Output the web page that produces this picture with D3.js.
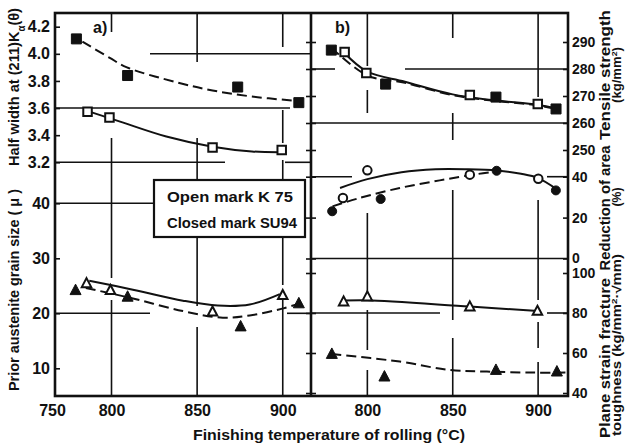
<!DOCTYPE html>
<html><head><meta charset="utf-8">
<script src="https://cdn.jsdelivr.net/npm/d3@7"></script>
<style>
body{margin:0;background:#fff}
svg{display:block}
text{font-family:"Liberation Sans",Arial,sans-serif;fill:#111;font-weight:bold}
</style>
</head><body><svg id="c" width="626" height="444"></svg>
<script>
// ---------------- DATA ----------------
// x tick labels
const xTicksLeft = [800, 850, 900];
const xTicksRight = [800, 850, 900];
const xStartLabel = "750";
// y tick labels
const hwTicks = [3.2, 3.4, 3.6, 3.8, 4.0, 4.2];
const gsTicks = [10, 20, 30, 40];
const tsTicks = [250, 260, 270, 280, 290];
const raTicks = [0, 20, 40];
const ftTicks = [40, 60, 80, 100];

// a) Half width at (211)Ka(theta)
const hwSU94Temp = [779.5, 809.4, 873.7, 909.4];
const hwSU94 = [4.11, 3.84, 3.755, 3.64];
const hwK75Temp = [786, 798.8, 859, 899.4];
const hwK75 = [3.573, 3.53, 3.31, 3.29];
const hwSU94FitTemp = [783, 799, 809, 838, 859, 882, 906];
const hwSU94Fit = [4.09, 3.97, 3.90, 3.79, 3.73, 3.685, 3.655];
const hwK75FitTemp = [788, 805, 832, 859, 882, 900];
const hwK75Fit = [3.57, 3.50, 3.39, 3.315, 3.28, 3.275];

// a) Prior austenite grain size
const gsSU94Temp = [779, 809.4, 875.4, 909.4];
const gsSU94 = [24.2, 23.0, 17.6, 21.8];
const gsK75Temp = [785.4, 799.4, 859, 900];
const gsK75 = [25.45, 24.2, 20.3, 23.3];
const gsK75FitTemp = [787, 812.5, 841.7, 862, 880.7, 898.3];
const gsK75Fit = [25.9, 24.3, 22.3, 21.4, 21.6, 23.5];
const gsSU94FitTemp = [785, 812.5, 841.7, 865, 880.7, 900.3, 908];
const gsSU94Fit = [24.6, 22.7, 20.4, 19.2, 19.6, 20.9, 21.6];

// b) Tensile strength
const tsSU94Temp = [778.9, 810.7, 875.3, 910.5];
const tsSU94 = [287, 274.4, 269.6, 265.2];
const tsK75Temp = [786.7, 799.4, 860, 899.8];
const tsK75 = [286.3, 278.5, 270.4, 267];
const tsK75FitTemp = [786, 800, 822, 850, 873, 900, 910];
const tsK75Fit = [286.3, 279, 275.3, 270.6, 268.5, 266.7, 265.5];
const tsSU94FitTemp = [779, 800, 822, 850, 873, 900, 910];
const tsSU94Fit = [287.8, 277.6, 274.9, 270.3, 268.3, 266.5, 265.3];

// b) Reduction of area
const raSU94Temp = [779.4, 807.8, 875.7, 910.4];
const raSU94 = [23.1, 29.1, 42.9, 33.3];
const raK75Temp = [785.7, 800, 860, 900.1];
const raK75 = [29.6, 43.1, 41, 39];
const raK75FitTemp = [784, 800, 820, 840, 858, 876, 890, 900, 911];
const raK75Fit = [34.5, 38.8, 42.2, 43.6, 43.6, 43.0, 41.4, 39.3, 33.8];
const raSU94FitTemp = [779.6, 795.5, 819, 842.4, 862, 877];
const raSU94Fit = [25.5, 29.6, 34.5, 38.2, 41, 42.7];

// b) Plane strain fracture toughness
const ftK75Temp = [786.1, 800, 860, 899.6];
const ftK75 = [85.7, 88.2, 83.2, 81];
const ftSU94Temp = [779.2, 810, 875.3, 911];
const ftSU94 = [59.5, 48.2, 51.5, 50.7];
const ftK75FitTemp = [786, 800, 860, 900];
const ftK75Fit = [86.2, 86.4, 83.2, 81];
const ftSU94FitTemp = [779, 819, 848, 870, 897, 916];
const ftSU94Fit = [59.5, 55.7, 51.5, 50.7, 50.2, 50.2];

// ---------------- LAYOUT ----------------
const F = {left: 55, mid: 311, right: 568, top: 13, bottom: 396};
const svg = d3.select("#c");
svg.append("rect").attr("width", 626).attr("height", 444).attr("fill", "#fff");

const xL = d3.scaleLinear().domain([767, 916.5]).range([F.left, F.mid]);
const xR = d3.scaleLinear().domain([767, 917.5]).range([F.mid, F.right]);
const yHW = d3.scaleLinear().domain([3.2, 4.2]).range([162.3, 26.7]);
const yGS = d3.scaleLinear().domain([10, 40]).range([368.3, 203.3]);
const yTS = d3.scaleLinear().domain([250, 290]).range([150, 42]);
const yRA = d3.scaleLinear().domain([0, 40]).range([258.5, 176.7]);
const yFT = d3.scaleLinear().domain([40, 100]).range([393, 273]);

const INK = "#111";

// ---------------- GRID (broken lines as in the print) ----------------
const grid = svg.append("g").attr("stroke", INK).attr("stroke-width", 1.6).attr("fill", "none");
const hGrid = [
  [yHW, 4.0, [[150, F.mid]]],
  [yHW, 3.6, [[F.left, 290]]],
  [yHW, 3.2, [[F.left, 225], [285, F.mid]]],
  [yGS, 40, [[F.left, 154]]],
  [yGS, 20, [[F.left, 150], [287, F.mid]]],
  [yTS, 280, [[F.mid, 335], [405, F.right]]],
  [yTS, 260, [[F.mid, F.right]]],
  [yRA, 40, [[F.mid, 352], [547, F.right]]],
  [yRA, 0, [[F.mid, F.right]]],
  [yFT, 80, [[F.mid, 440], [547, F.right]]]
];
hGrid.forEach(([s, v, segs]) => segs.forEach(([a, b]) =>
  grid.append("line").attr("x1", a).attr("x2", b).attr("y1", s(v)).attr("y2", s(v))));
const vGrid = [
  [xL, 800, [[13, 32], [138, 278], [300, 396]]],
  [xL, 850, [[13, 62], [138, 180], [237, 306], [327, 396]]],
  [xL, 900, [[13, 47], [110, 143], [160, 180], [237, 285], [300, 396]]],
  [xR, 800, [[13, 66], [90, 113], [213, 300], [310, 350], [370, 396]]],
  [xR, 850, [[13, 38], [113, 140], [190, 320], [338, 396]]],
  [xR, 900, [[13, 97], [200, 300], [322, 348], [362, 396]]]
];
vGrid.forEach(([s, v, segs]) => segs.forEach(([a, b]) =>
  grid.append("line").attr("x1", s(v)).attr("x2", s(v)).attr("y1", a).attr("y2", b)));

// ---------------- LEGEND BOX ----------------
svg.append("rect").attr("x", 154).attr("y", 180).attr("width", 151).attr("height", 57)
  .attr("fill", "#fff").attr("stroke", INK).attr("stroke-width", 2.2);
svg.append("text").attr("x", 167).attr("y", 202).attr("font-size", 15)
  .attr("textLength", 126).attr("lengthAdjust", "spacingAndGlyphs").text("Open mark  K 75");
svg.append("text").attr("x", 167).attr("y", 228).attr("font-size", 15)
  .attr("textLength", 130).attr("lengthAdjust", "spacingAndGlyphs").text("Closed mark  SU94");

// ---------------- FIT CURVES ----------------
function fit(T, V, xs, ys, dashed) {
  const pts = T.map((t, i) => [xs(t), ys(V[i])]);
  svg.append("path").attr("d", d3.line().curve(d3.curveCatmullRom.alpha(0.5))(pts))
    .attr("fill", "none").attr("stroke", INK).attr("stroke-width", 2)
    .attr("stroke-dasharray", dashed ? "10,5" : null);
}
fit(hwSU94FitTemp, hwSU94Fit, xL, yHW, true);
fit(hwK75FitTemp, hwK75Fit, xL, yHW, false);
fit(gsK75FitTemp, gsK75Fit, xL, yGS, false);
fit(gsSU94FitTemp, gsSU94Fit, xL, yGS, true);
fit(tsK75FitTemp, tsK75Fit, xR, yTS, false);
fit(tsSU94FitTemp, tsSU94Fit, xR, yTS, true);
fit(raK75FitTemp, raK75Fit, xR, yRA, false);
fit(raSU94FitTemp, raSU94Fit, xR, yRA, true);
fit(ftK75FitTemp, ftK75Fit, xR, yFT, false);
fit(ftSU94FitTemp, ftSU94Fit, xR, yFT, true);

// ---------------- MARKERS ----------------
const shapes = {
  square: (s) => `M${-s/2},${-s/2}h${s}v${s}h${-s}Z`,
  triangle: (s) => `M0,${-s*0.55}L${s/2},${s*0.4}L${-s/2},${s*0.4}Z`,
  circle: (s) => d3.symbol(d3.symbolCircle, Math.PI * s * s / 4)()
};
function pts(T, V, xs, ys, shape, filled) {
  const size = shape === "circle" ? (filled ? 9 : 8.5) : shape === "triangle" ? (filled ? 11 : 9.5) : (filled ? 10 : 8.5);
  svg.append("g").selectAll("path").data(T).join("path")
    .attr("transform", (t, i) => `translate(${xs(t)},${ys(V[i])})`)
    .attr("d", shapes[shape](size))
    .attr("fill", filled ? INK : "#fff")
    .attr("stroke", INK).attr("stroke-width", filled ? 1 : 2);
}
pts(hwSU94Temp, hwSU94, xL, yHW, "square", true);
pts(hwK75Temp, hwK75, xL, yHW, "square", false);
pts(gsSU94Temp, gsSU94, xL, yGS, "triangle", true);
pts(gsK75Temp, gsK75, xL, yGS, "triangle", false);
pts(tsSU94Temp, tsSU94, xR, yTS, "square", true);
pts(tsK75Temp, tsK75, xR, yTS, "square", false);
pts(raSU94Temp, raSU94, xR, yRA, "circle", true);
pts(raK75Temp, raK75, xR, yRA, "circle", false);
pts(ftSU94Temp, ftSU94, xR, yFT, "triangle", true);
pts(ftK75Temp, ftK75, xR, yFT, "triangle", false);

// ---------------- FRAME ----------------
svg.append("rect").attr("x", F.left).attr("y", F.top)
  .attr("width", F.right - F.left).attr("height", F.bottom - F.top)
  .attr("fill", "none").attr("stroke", INK).attr("stroke-width", 2.6);
svg.append("line").attr("x1", F.mid).attr("x2", F.mid).attr("y1", F.top).attr("y2", F.bottom)
  .attr("stroke", INK).attr("stroke-width", 2.6);

// ---------------- AXES ----------------
function styleAxis(g) {
  g.select(".domain").remove();
  g.selectAll("line").attr("stroke", INK).attr("stroke-width", 1.6);
  g.selectAll("text").attr("fill", INK).attr("font-family", '"Liberation Sans",Arial,sans-serif')
    .attr("font-weight", "bold");
}
// left axes (ticks pointing inward)
[[yHW, hwTicks, d3.format(".1f")], [yGS, gsTicks, d3.format("d")]].forEach(([s, tv, fmt]) => {
  const g = svg.append("g").attr("transform", `translate(${F.left},0)`)
    .call(d3.axisLeft(s).tickValues(tv).tickFormat(fmt).tickSizeInner(-5).tickSizeOuter(0).tickPadding(6));
  styleAxis(g);
  g.selectAll("text").attr("font-size", 16).attr("x", -5);
});
// right axes
[[yTS, tsTicks], [yRA, raTicks], [yFT, ftTicks]].forEach(([s, tv]) => {
  const g = svg.append("g").attr("transform", `translate(${F.right},0)`)
    .call(d3.axisRight(s).tickValues(tv).tickFormat(d3.format("d")).tickSizeInner(-5).tickSizeOuter(0));
  styleAxis(g);
  g.selectAll("text").attr("font-size", 14).attr("x", 4);
});
// middle ticks crossing the shared border
[[yTS, tsTicks], [yRA, raTicks], [yFT, ftTicks]].forEach(([s, tv]) => {
  const g = svg.append("g").attr("transform", `translate(${F.mid},0)`)
    .call(d3.axisRight(s).tickValues(tv).tickFormat("").tickSizeInner(5).tickSizeOuter(0));
  styleAxis(g);
  g.selectAll(".tick line").attr("x1", -5);
});
// x axes
const gxL = svg.append("g").attr("transform", `translate(0,${F.bottom})`)
  .call(d3.axisBottom(xL).tickValues([xL.domain()[0], ...xTicksLeft])
    .tickFormat((d, i) => i === 0 ? xStartLabel : d3.format("d")(d)).tickSize(0).tickPadding(5));
styleAxis(gxL);
gxL.selectAll("text").attr("font-size", 16).attr("dy", "0.95em");
gxL.select(".tick text").attr("x", -3);
const gxR = svg.append("g").attr("transform", `translate(0,${F.bottom})`)
  .call(d3.axisBottom(xR).tickValues(xTicksRight).tickFormat(d3.format("d")).tickSize(0).tickPadding(5));
styleAxis(gxR);
gxR.selectAll("text").attr("font-size", 16).attr("dy", "0.95em");

// ---------------- PANEL TAGS ----------------
svg.append("text").attr("x", 93).attr("y", 33).attr("font-size", 16).text("a)");
svg.append("text").attr("x", 335).attr("y", 33).attr("font-size", 16).text("b)");

// ---------------- AXIS TITLES ----------------
function vtext(x, yc, len, size) {
  return svg.append("text").attr("transform", `translate(${x},${yc}) rotate(-90)`)
    .attr("text-anchor", "middle").attr("dy", "0.35em").attr("font-size", size)
    .attr("textLength", len).attr("lengthAdjust", "spacingAndGlyphs");
}
const t1 = vtext(14, 87, 158, 15);
t1.append("tspan").text("Half width at (211)K");
t1.append("tspan").attr("font-size", 10).attr("baseline-shift", "sub").text("α");
t1.append("tspan").text("(θ)");
vtext(14, 290, 202, 15).text("Prior austenite grain size ( μ )");

vtext(605, 75, 130, 14).text("Tensile strength");
const k1 = vtext(617, 75, 56, 12);
k1.append("tspan").text("(kg/mm");
k1.append("tspan").attr("font-size", 8).attr("baseline-shift", "super").text("2");
k1.append("tspan").text(")");
vtext(605, 208, 125, 14).text("Reduction of area");
vtext(617, 197, 19, 12).text("(%)");
vtext(605, 358, 160, 14).text("Plane strain fracture");
const k2 = vtext(617, 345, 182, 12);
k2.append("tspan").text("toughness (kg/mm");
k2.append("tspan").attr("font-size", 8).attr("baseline-shift", "super").text("2");
k2.append("tspan").text("·√mm)");

svg.append("text").attr("x", 329).attr("y", 440).attr("text-anchor", "middle").attr("font-size", 15)
  .attr("textLength", 272).attr("lengthAdjust", "spacingAndGlyphs")
  .text("Finishing temperature of rolling (°C)");
</script></body></html>
